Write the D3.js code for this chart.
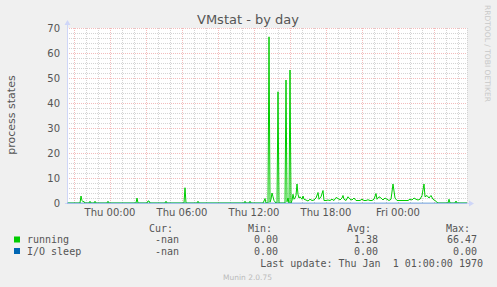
<!DOCTYPE html>
<html>
<head>
<meta charset="utf-8">
<script src="https://cdn.jsdelivr.net/npm/d3@7"></script>
<style>
body { margin: 0; background: #f0f0f0; }
svg { display: block; }
</style>
</head>
<body>
<svg id="chart" width="497" height="287"></svg>
<script>
// minutes after Thu 00:00 (negative = Wed evening)
const minutes = [
    -215, -150, -145, -140, -135, -130, -125, -105, -100, -95, -80, -75, -70,
    -15, -10, -5, 130, 135, 140, 185, 190, 195, 200, 275, 280, 285,
    370, 375, 380, 435, 440, 445, 670, 675, 680, 695, 700, 705,
    765, 770, 775, 780, 790, 795, 800, 805, 810, 815, 820, 830, 835, 840, 845,
    870, 875, 880, 885, 890, 895, 900, 905, 910, 915, 920, 925, 930, 935, 940, 945,
    950, 960, 965, 970, 980, 990, 1000, 1010, 1020, 1030, 1040, 1045, 1055, 1065, 1070,
    1080, 1090, 1100, 1110, 1120, 1130, 1140, 1150, 1160, 1165, 1170, 1180, 1190, 1200,
    1210, 1220, 1230, 1240, 1250, 1260, 1270, 1280, 1290, 1300, 1310, 1320, 1330, 1335,
    1345, 1355, 1365, 1375, 1385, 1395, 1405, 1415, 1425, 1435, 1450, 1475, 1490, 1500,
    1510, 1520, 1530, 1540, 1550, 1560, 1570, 1575, 1585, 1595, 1605, 1615, 1625, 1635,
    1640, 1690, 1695, 1700, 1725, 1730, 1735, 1785
];
const running = [
    0, 0, 2.8, 1.0, 0.5, 0.6, 0, 0, 0.7, 0, 0, 0.7, 0,
    0, 0.7, 0, 0, 2.0, 0, 0, 0.8, 0.8, 0, 0, 0.7, 0,
    0, 6.1, 0, 0, 0.7, 0, 0, 0.7, 0, 0, 0.7, 0,
    0, 0.8, 1.8, 0, 0, 66.47, 0.3, 1.5, 4.0, 2.5, 1.0, 0, 0, 44.5, 0,
    0, 0, 49.2, 0.5, 2.0, 0, 53.2, 0, 1.0, 3.5, 1.5, 2.0, 3.0, 7.6, 3.5, 2.0,
    2.5, 1.5, 2.8, 1.5, 1.2, 0.8, 1.5, 1.0, 1.2, 2.0, 4.2, 1.5, 2.5, 5.0, 1.0,
    1.0, 1.2, 1.0, 1.5, 1.0, 2.2, 1.8, 1.2, 2.0, 3.0, 1.5, 1.0, 2.5, 1.5,
    1.2, 2.0, 1.0, 1.0, 1.0, 1.5, 1.0, 1.0, 1.3, 1.0, 1.0, 1.5, 3.8, 1.5,
    2.5, 2.0, 1.2, 2.0, 1.5, 1.0, 1.5, 7.6, 2.0, 1.0, 1.0, 1.0, 1.0, 1.5,
    1.2, 2.0, 1.5, 1.2, 1.5, 3.0, 7.6, 2.5, 3.0, 2.0, 3.0, 1.5, 1.0, 0.3,
    0, 0, 1.5, 0, 0, 0.8, 0, 0
];
const ioSleepMinutes = [-215, 1785];
const ioSleep = [0, 0];

const yTicks = [0, 10, 20, 30, 40, 50, 60, 70];

const seriesNames = ['running', 'I/O sleep'];
const seriesColors = ['#00cc00', '#0066b3'];
const curValues = ['-nan', '-nan'];
const minValues = ['0.00', '0.00'];
const avgValues = ['1.38', '0.00'];
const maxValues = ['66.47', '0.00'];

const margin = {left: 67, top: 28};
const plotWidth = 400;
const plotHeight = 175;

const t0 = Date.UTC(1970, 0, 1);
const toDate = m => new Date(t0 + m * 60000);

const svg = d3.select('#chart');
const sans = 'DejaVu Sans, sans-serif';
const mono = 'DejaVu Sans Mono, monospace';

const xScale = d3.scaleUtc()
    .domain([toDate(minutes[0]), toDate(minutes[minutes.length - 1])])
    .range([margin.left, margin.left + plotWidth]);

const yScale = d3.scaleLinear()
    .domain([0, 70])
    .range([margin.top + plotHeight, margin.top]);

// canvas
svg.append('rect')
    .attr('x', margin.left)
    .attr('y', margin.top)
    .attr('width', plotWidth)
    .attr('height', plotHeight)
    .style('fill', '#ffffff');

const grid = svg.append('g').attr('shape-rendering', 'crispEdges');
const minorColor = '#d4d4d4';
const majorColor = '#f3bcbc';

// minor grid
const hours = d3.utcHour.every(1).range(xScale.domain()[0], xScale.domain()[1]);
grid.selectAll('.vminor')
    .data(hours.filter(d => d.getUTCHours() % 3 !== 0))
    .join('line')
    .attr('x1', d => Math.round(xScale(d)) + 0.5)
    .attr('x2', d => Math.round(xScale(d)) + 0.5)
    .attr('y1', margin.top)
    .attr('y2', margin.top + plotHeight)
    .style('stroke', minorColor)
    .style('stroke-dasharray', '1,1');

grid.selectAll('.hminor')
    .data(d3.range(2, 70, 2).filter(v => v % 10 !== 0))
    .join('line')
    .attr('x1', margin.left)
    .attr('x2', margin.left + plotWidth)
    .attr('y1', d => Math.round(yScale(d)) + 0.5)
    .attr('y2', d => Math.round(yScale(d)) + 0.5)
    .style('stroke', minorColor)
    .style('stroke-dasharray', '1,1');

// right edge
grid.append('line')
    .attr('x1', margin.left + plotWidth + 0.5)
    .attr('x2', margin.left + plotWidth + 0.5)
    .attr('y1', margin.top)
    .attr('y2', margin.top + plotHeight)
    .style('stroke', minorColor)
    .style('stroke-dasharray', '1,1');

// major grid
grid.selectAll('.vmajor')
    .data(hours.filter(d => d.getUTCHours() % 3 === 0))
    .join('line')
    .attr('x1', d => Math.round(xScale(d)) + 0.5)
    .attr('x2', d => Math.round(xScale(d)) + 0.5)
    .attr('y1', margin.top)
    .attr('y2', margin.top + plotHeight)
    .style('stroke', majorColor)
    .style('stroke-dasharray', '1,1');

grid.selectAll('.hmajor')
    .data(yTicks.filter(v => v > 0))
    .join('line')
    .attr('x1', margin.left)
    .attr('x2', margin.left + plotWidth)
    .attr('y1', d => Math.round(yScale(d)) + 0.5)
    .attr('y2', d => Math.round(yScale(d)) + 0.5)
    .style('stroke', majorColor)
    .style('stroke-dasharray', '1,1');

// series
const line = d3.line()
    .x(d => xScale(toDate(d[0])))
    .y(d => yScale(d[1]));

svg.append('path')
    .datum(minutes.map((m, i) => [m, running[i]]))
    .attr('d', line)
    .style('fill', 'none')
    .style('stroke', seriesColors[0])
    .style('stroke-width', 1);

// axes
svg.append('line')
    .attr('x1', margin.left + 0.5)
    .attr('x2', margin.left + 0.5)
    .attr('y1', margin.top - 4)
    .attr('y2', margin.top + plotHeight + 1)
    .attr('shape-rendering', 'crispEdges')
    .style('stroke', '#cfd6f8');

svg.append('line')
    .attr('x1', margin.left - 2)
    .attr('x2', margin.left + plotWidth + 3)
    .attr('y1', margin.top + plotHeight + 0.5)
    .attr('y2', margin.top + plotHeight + 0.5)
    .attr('shape-rendering', 'crispEdges')
    .style('stroke', '#cfd6f8');

svg.append('path')
    .datum(ioSleepMinutes.map((m, i) => [m, ioSleep[i]]))
    .attr('d', line)
    .style('fill', 'none')
    .style('stroke', seriesColors[1])
    .style('stroke-opacity', 0.45)
    .style('stroke-width', 1);

svg.append('path')
    .attr('d', `M${margin.left - 2.5},${margin.top - 3} L${margin.left + 3.5},${margin.top - 3} L${margin.left + 0.5},${margin.top - 8} Z`)
    .style('fill', '#cfd6f8');

svg.append('path')
    .attr('d', `M${margin.left + plotWidth + 2},${margin.top + plotHeight - 2.5} L${margin.left + plotWidth + 2},${margin.top + plotHeight + 3.5} L${margin.left + plotWidth + 7},${margin.top + plotHeight + 0.5} Z`)
    .style('fill', '#cfd6f8');

// tick labels
svg.selectAll('.ylabel')
    .data(yTicks)
    .join('text')
    .attr('x', margin.left - 7)
    .attr('y', d => yScale(d) + 3.5)
    .attr('text-anchor', 'end')
    .style('font-family', sans)
    .style('font-size', '10px')
    .style('fill', '#555')
    .text(d => d);

const formatTime = d3.utcFormat('%a %H:%M');
svg.selectAll('.xlabel')
    .data(xScale.ticks(d3.utcHour.every(6)))
    .join('text')
    .attr('x', d => xScale(d))
    .attr('y', margin.top + plotHeight + 12.5)
    .attr('text-anchor', 'middle')
    .style('font-family', sans)
    .style('font-size', '10px')
    .style('fill', '#555')
    .text(d => formatTime(d));

// title and side texts
svg.append('text')
    .attr('x', 248)
    .attr('y', 23.5)
    .attr('text-anchor', 'middle')
    .style('font-family', sans)
    .style('font-size', '13px')
    .style('fill', '#555')
    .text('VMstat - by day');

svg.append('text')
    .attr('transform', 'translate(14.5,115) rotate(-90)')
    .attr('text-anchor', 'middle')
    .style('font-family', sans)
    .style('font-size', '11px')
    .style('fill', '#555')
    .text('process states');

svg.append('text')
    .attr('transform', 'translate(485,5) rotate(90)')
    .attr('textLength', 97)
    .attr('lengthAdjust', 'spacingAndGlyphs')
    .style('font-family', sans)
    .style('font-size', '7.5px')
    .style('fill', '#c8c8c8')
    .text('RRDTOOL / TOBI OETIKER');

// legend
const legend = svg.append('g')
    .style('font-family', mono)
    .style('font-size', '10px')
    .style('fill', '#555');

const colEnds = [173, 272, 371, 470];
const valEnds = [179, 278, 378, 477];
const headers = ['Cur:', 'Min:', 'Avg:', 'Max:'];

headers.forEach((h, i) => {
    legend.append('text')
        .attr('x', colEnds[i])
        .attr('y', 231.5)
        .attr('text-anchor', 'end')
        .text(h);
});

seriesNames.forEach((name, r) => {
    const y = 243 + r * 11.5;
    legend.append('rect')
        .attr('x', 14)
        .attr('y', y - 6.5)
        .attr('width', 6)
        .attr('height', 6)
        .style('fill', seriesColors[r]);
    legend.append('text')
        .attr('x', 27)
        .attr('y', y)
        .text(name);
    [curValues, minValues, avgValues, maxValues].forEach((vals, i) => {
        legend.append('text')
            .attr('x', valEnds[i])
            .attr('y', y)
            .attr('text-anchor', 'end')
            .text(vals[r]);
    });
});

legend.append('text')
    .attr('x', 483)
    .attr('y', 267)
    .attr('text-anchor', 'end')
    .style('white-space', 'pre')
    .attr('xml:space', 'preserve')
    .text('Last update: Thu Jan  1 01:00:00 1970');

svg.append('text')
    .attr('x', 247.5)
    .attr('y', 279.5)
    .attr('text-anchor', 'middle')
    .style('font-family', sans)
    .style('font-size', '7.5px')
    .style('fill', '#bbb')
    .text('Munin 2.0.75');
</script>
</body>
</html>
